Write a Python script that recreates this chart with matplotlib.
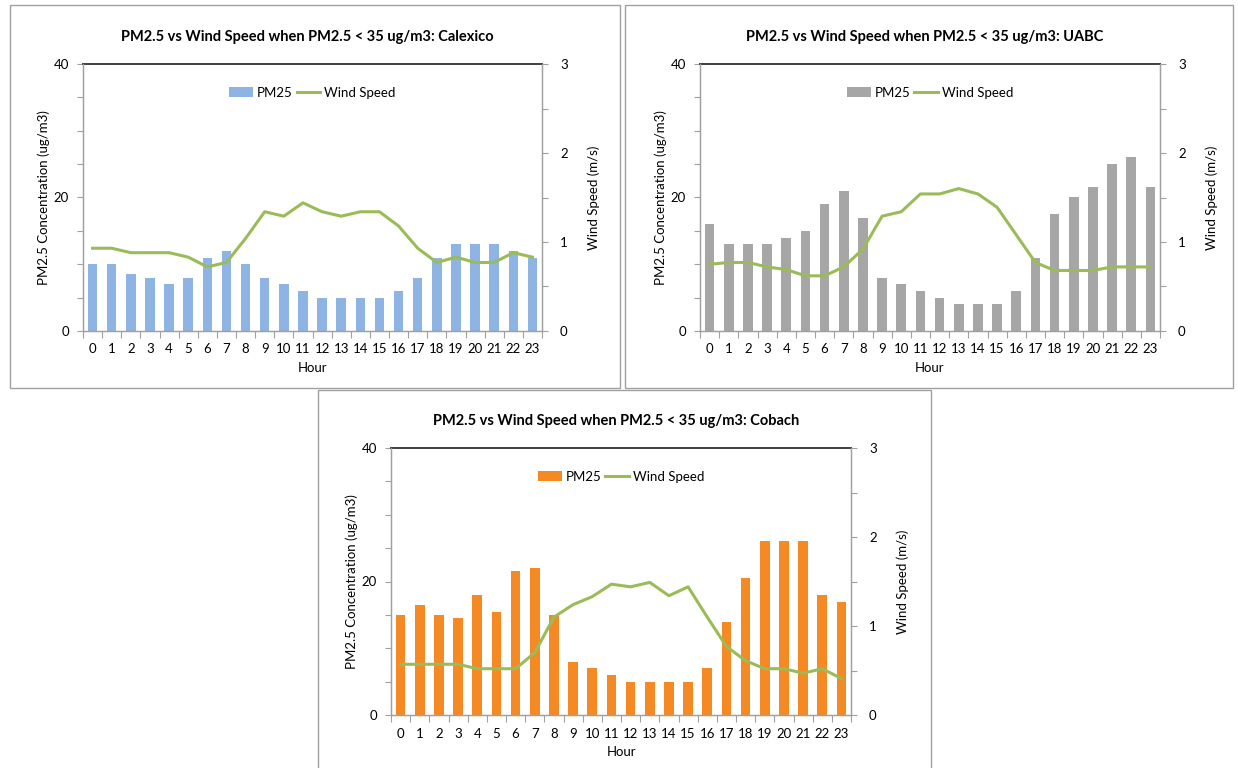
import matplotlib
matplotlib.use("Agg")
import matplotlib.pyplot as plt
from matplotlib.patches import Rectangle
from matplotlib.ticker import MultipleLocator

plt.rcParams['font.family'] = ['Lato', 'DejaVu Sans']

hours = list(range(24))

calexico_pm25 = [10, 10, 8.5, 8, 7, 8, 11, 12, 10, 8, 7, 6, 5, 5, 5, 5, 6, 8, 11, 13, 13, 13, 12, 11]
calexico_wind = [0.93, 0.93, 0.88, 0.88, 0.88, 0.83, 0.72, 0.77, 1.04, 1.34, 1.29, 1.44, 1.34, 1.29, 1.34, 1.34,
                 1.18, 0.93, 0.77, 0.83, 0.77, 0.77, 0.88, 0.83]

uabc_pm25 = [16, 13, 13, 13, 14, 15, 19, 21, 17, 8, 7, 6, 5, 4, 4, 4, 6, 11, 17.5, 20, 21.5, 25, 26, 21.5]
uabc_wind = [0.75, 0.77, 0.77, 0.72, 0.69, 0.62, 0.62, 0.72, 0.92, 1.29, 1.34, 1.54, 1.54, 1.60, 1.54, 1.39,
             1.08, 0.77, 0.68, 0.68, 0.68, 0.72, 0.72, 0.72]

cobach_pm25 = [15, 16.5, 15, 14.5, 18, 15.5, 21.5, 22, 15, 8, 7, 6, 5, 5, 5, 5, 7, 14, 20.5, 26, 26, 26, 18, 17]
cobach_wind = [0.57, 0.57, 0.57, 0.57, 0.52, 0.52, 0.52, 0.70, 1.10, 1.24, 1.33, 1.47, 1.44, 1.49, 1.34, 1.44,
               1.10, 0.77, 0.61, 0.52, 0.52, 0.47, 0.52, 0.41]

titles = ["PM2.5 vs Wind Speed when PM2.5 < 35 ug/m3: Calexico",
          "PM2.5 vs Wind Speed when PM2.5 < 35 ug/m3: UABC",
          "PM2.5 vs Wind Speed when PM2.5 < 35 ug/m3: Cobach"]
bar_colors = ["#8DB4E2", "#A6A6A6", "#F58A24"]
line_color = "#9BBB59"

W, H = 1238, 768
fig = plt.figure(figsize=(W / 100, H / 100), dpi=100)

def fx(px):
    return px / W

def fy(py):
    return 1 - py / H

# panel frames (pixel coords: left, top, right, bottom)
frames = [(10, 5, 620, 388), (625, 5, 1233, 388), (318, 390, 931, 770)]
for (l, t, r, b) in frames:
    fig.patches.append(Rectangle((fx(l), fy(b)), fx(r - l), fy(t) - fy(b), transform=fig.transFigure,
                                 fill=False, edgecolor="#A0A0A0", linewidth=1.0))

# axes boxes in pixels: left, top, right, bottom
boxes = [(83, 64, 542, 331), (700, 64, 1160, 331), (391, 448, 851, 715)]
datasets = [(calexico_pm25, calexico_wind), (uabc_pm25, uabc_wind), (cobach_pm25, cobach_wind)]

for i, ((l, t, r, b), (pm, ws)) in enumerate(zip(boxes, datasets)):
    ax = fig.add_axes([fx(l), fy(b), fx(r - l), fy(t) - fy(b)])
    bars = ax.bar(hours, pm, width=0.5, color=bar_colors[i], label="PM25", zorder=2)
    ax.set_xlim(-0.5, 23.5)
    ax.set_ylim(0, 40)
    ax.yaxis.set_major_locator(MultipleLocator(20))
    ax.yaxis.set_minor_locator(MultipleLocator(5))
    ax.set_xticks(hours)
    ax.set_xticklabels([str(h) for h in hours], fontsize=9.5)
    ax.set_xticks([h + 0.5 for h in range(-1, 24)], minor=True)
    ax.tick_params(axis='x', which='major', length=0, pad=9)
    ax.tick_params(axis='x', which='minor', length=5, color="#A0A0A0", width=0.8)
    ax.tick_params(axis='y', which='major', length=4, color="#A0A0A0", labelsize=9.5, width=0.8, pad=6)
    ax.tick_params(axis='y', which='minor', length=4, color="#A0A0A0", width=0.8)
    for s in ['left', 'bottom', 'right']:
        ax.spines[s].set_color("#A0A0A0")
        ax.spines[s].set_linewidth(0.9)
    ax.spines['top'].set_color("#404040")
    ax.spines['top'].set_linewidth(1.4)
    ax.set_xlabel("Hour", fontsize=9.5, labelpad=5)
    ax.set_ylabel("PM2.5 Concentration (ug/m3)", fontsize=9.5, labelpad=3)

    ax2 = ax.twinx()
    line, = ax2.plot(hours, ws, color=line_color, linewidth=2.2, label="Wind Speed", zorder=3)
    ax2.set_ylim(0, 3)
    ax2.yaxis.set_major_locator(MultipleLocator(1))
    ax2.yaxis.set_minor_locator(MultipleLocator(0.5))
    ax2.tick_params(axis='y', which='major', length=4, color="#A0A0A0", labelsize=9.5, width=0.8, pad=9)
    ax2.tick_params(axis='y', which='minor', length=4, color="#A0A0A0", width=0.8)
    for s in ['left', 'bottom', 'right']:
        ax2.spines[s].set_color("#A0A0A0")
        ax2.spines[s].set_linewidth(0.9)
    ax2.spines['top'].set_visible(False)
    ax2.set_ylabel("Wind Speed (m/s)", fontsize=9.5, labelpad=14)

    ax.legend([bars, line], ["PM25", "Wind Speed"], loc='upper center', bbox_to_anchor=(0.5, 0.96),
              ncol=2, frameon=False, fontsize=9.5, handlelength=1.8, handletextpad=0.3, columnspacing=0.3)

    cx = (l + r) / 2 - 5
    fig.text(fx(cx), fy(t - 27), titles[i], ha='center', va='center', fontsize=10.5, fontweight='bold')

fig.savefig("out.png", dpi=100)
